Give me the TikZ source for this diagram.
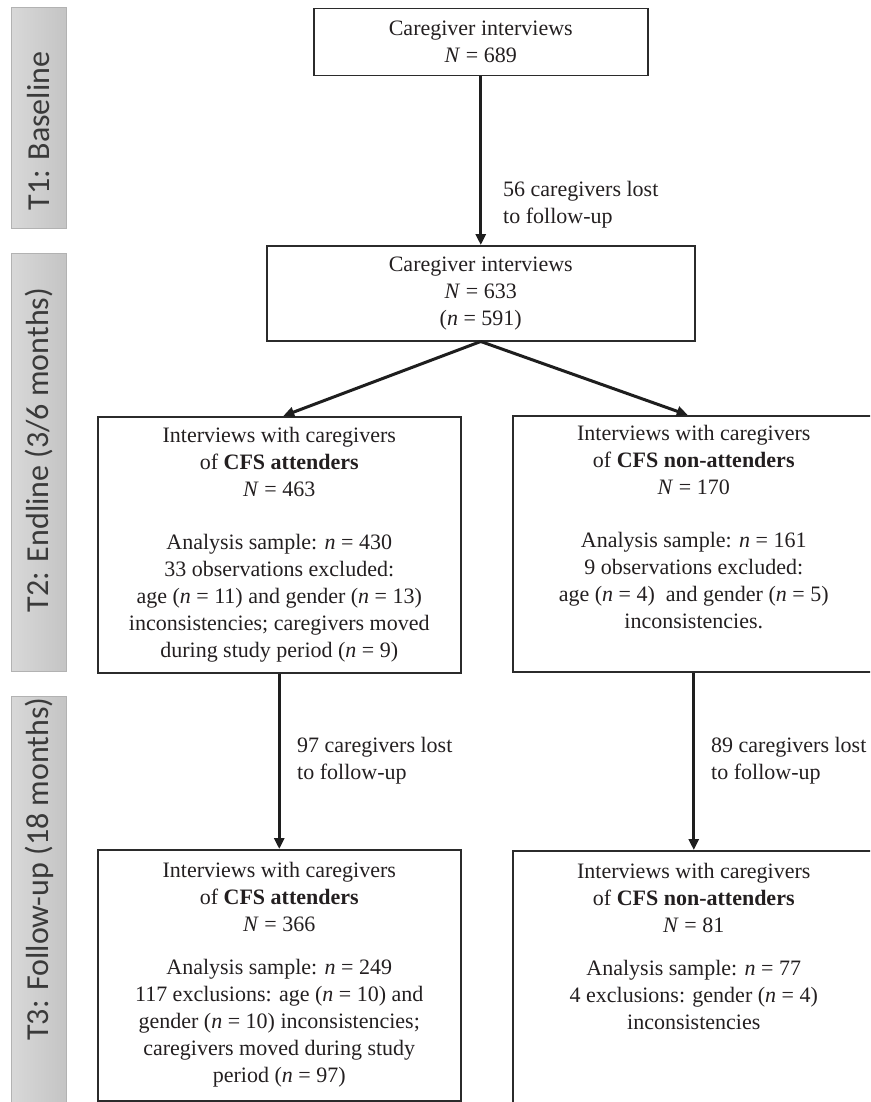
\documentclass[tikz,border=0pt]{standalone}
\usepackage{fontspec}
\setmainfont{Liberation Serif}
\newfontfamily\tabfont{Carlito}
\usetikzlibrary{arrows.meta,calc}
\definecolor{boxline}{HTML}{2B2B2B}
\definecolor{arrowc}{HTML}{1E1E1E}
\definecolor{tabL}{HTML}{D8D8D8}
\definecolor{tabR}{HTML}{C4C4C4}
\definecolor{tabborder}{HTML}{B2B2B2}
\definecolor{tabtext}{HTML}{3A3A3A}
\definecolor{maintext}{HTML}{231F20}
\begin{document}
\begin{tikzpicture}[x=1pt,y=-1pt,
  box/.style={draw=boxline, line width=1.5pt, rectangle, inner sep=0pt, anchor=north west},
  txt/.style={align=center, inner sep=0pt, text=maintext, font=\fontsize{22}{27}\selectfont},
  lbl/.style={align=left, anchor=west, inner sep=0pt, text=maintext, font=\fontsize{22}{27}\selectfont},
  tab/.style={draw=tabborder, line width=1pt, left color=tabL, right color=tabR, minimum width=55, inner sep=0pt, anchor=north west},
  tabtxt/.style={rotate=90, inner sep=0pt, text=tabtext, font=\tabfont\fontsize{32}{36}\selectfont},
  arr/.style={draw=arrowc, line width=3pt, -{Triangle[length=11pt,width=10pt]}}
]
\useasboundingbox (0,0) rectangle (870,1102);
\clip (0,0) rectangle (870,1102);

% phase tabs
\node[tab, minimum height=221] (tab1) at (11,7) {};
\node[tabtxt] (tab1t) at (39,131) {T1: Baseline};
\node[tab, minimum height=418] (tab2) at (11,253) {};
\node[tabtxt] (tab2t) at (39,450) {T2: Endline (3/6 months)};
\node[tab, minimum height=420] (tab3) at (11,696) {};
\node[tabtxt] (tab3t) at (39,869) {T3: Follow-up (18 months)};

% boxes
\node[box, txt, anchor=north west, minimum width=334, minimum height=67] (b1) at (313,8)
  {Caregiver interviews\\\textit{N} = 689};
\node[box, txt, anchor=north west, minimum width=428, minimum height=95] (b2) at (266,245)
  {Caregiver interviews\\\textit{N} = 633\\(\textit{n} = 591)};
\node[box, minimum width=363, minimum height=256] (b3) at (97,416) {};
\node[box, minimum width=362, minimum height=256] (b4) at (512,415) {};
\node[box, minimum width=363, minimum height=251] (b5) at (97,849) {};
\node[box, minimum width=362, minimum height=262] (b6) at (512,850) {};

\node[txt, anchor=north] (t3) at ($(b3.north)+(0,11)$)
  {Interviews with caregivers\\of \textbf{CFS attenders}\\\textit{N} = 463\\[26pt]
   Analysis sample: \textit{n} = 430\\33 observations excluded:\\
   age (\textit{n} = 11) and gender (\textit{n} = 13)\\
   inconsistencies; caregivers moved\\during study period (\textit{n} = 9)};
\node[txt, anchor=north] (t4) at ($(b4.north)+(0,10)$)
  {Interviews with caregivers\\of \textbf{CFS non-attenders}\\\textit{N} = 170\\[26pt]
   Analysis sample: \textit{n} = 161\\9 observations excluded:\\
   age (\textit{n} = 4) \ and gender (\textit{n} = 5)\\inconsistencies.};
\node[txt, anchor=north] (t5) at ($(b5.north)+(0,13)$)
  {Interviews with caregivers\\of \textbf{CFS attenders}\\\textit{N} = 366\\[16pt]
   Analysis sample: \textit{n} = 249\\117 exclusions: age (\textit{n} = 10) and\\
   gender (\textit{n} = 10) inconsistencies;\\caregivers moved during study\\
   period (\textit{n} = 97)};
\node[txt, anchor=north] (t6) at ($(b6.north)+(0,13)$)
  {Interviews with caregivers\\of \textbf{CFS non-attenders}\\\textit{N} = 81\\[16pt]
   Analysis sample: \textit{n} = 77\\4 exclusions: gender (\textit{n} = 4)\\
   inconsistencies};

% connectors
\draw[arr] (b1.south) -- (b2.north);
\draw[arr] (b2.south) -- ($(b3.north)+(4,0)$);
\draw[arr] (b2.south) -- ($(b4.north)+(-6,0)$);
\draw[arr] (b3.south) -- (b5.north);
\draw[arr] (b4.south) -- (b6.north);

% connector labels
\node[lbl] (l1) at (503,205) {56 caregivers lost\\to follow-up};
\node[lbl] (l2) at (297,761) {97 caregivers lost\\to follow-up};
\node[lbl] (l3) at (711,761) {89 caregivers lost\\to follow-up};
\end{tikzpicture}
\end{document}
